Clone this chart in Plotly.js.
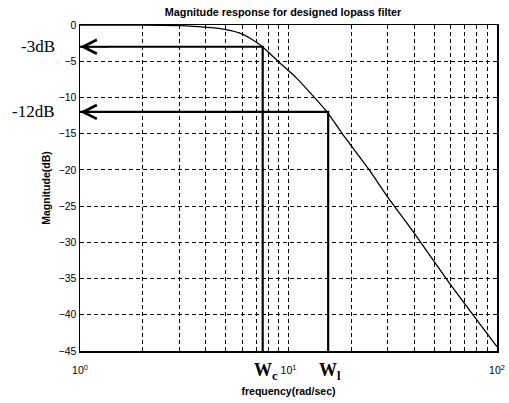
<!DOCTYPE html>
<html>
<head>
<meta charset="utf-8">
<script src="https://cdn.plot.ly/plotly-3.0.1.min.js"></script>
<style>html,body{margin:0;padding:0;background:#fff;}#chart{width:509px;height:403px;}</style>
</head>
<body>
<div id="chart"></div>
<script>
// Values
const freq = [1, 2, 3, 3.5, 4.7, 5.8, 6.6, 7.5, 8.9, 10.9, 13.3, 15.5, 18.1, 24.4, 29.8, 40, 59, 79, 97, 100];
const mag  = [0, -0.02, -0.1, -0.2, -0.5, -1.1, -1.9, -3, -5, -7.3, -10, -12.2, -15, -20, -23.7, -28.7, -35.6, -40.5, -43.9, -44.4];
const wc = 7.52;         // cutoff frequency marker
const wl = 15.5;         // second marker frequency
const levels = [-3, -12];           // dB levels marked
const levelLabels = ['-3dB', '-12dB'];
const markerFreqs = [wc, wl];
const markerLabels = ['W<sub>c</sub>', 'W<sub>l</sub>'];
const yTicks = [0, -5, -10, -15, -20, -25, -30, -35, -40, -45];
const xTicks = [1, 10, 100];
const xTickText = ['10<sup>0</sup>', '10<sup>1</sup>', '10<sup>2</sup>'];
const xMinor = [2, 3, 4, 5, 6, 7, 8, 9, 20, 30, 40, 50, 60, 70, 80, 90];
const yMin = -45;

const traces = [{
  x: freq, y: mag, type: 'scatter', mode: 'lines',
  line: {color: '#000', width: 1.3, shape: 'spline', smoothing: 0.5},
  hoverinfo: 'skip'
}];
levels.forEach((lv, i) => {
  traces.push({
    x: [xTicks[0], markerFreqs[i], markerFreqs[i]],
    y: [lv, lv, yMin],
    type: 'scatter', mode: 'lines',
    line: {color: '#000', width: 2.2},
    hoverinfo: 'skip'
  });
});

const annotations = [];
levels.forEach((lv, i) => {
  annotations.push({
    x: Math.log10(xTicks[0]), y: lv, xref: 'x', yref: 'y',
    ax: Math.log10(1.4), ay: lv, axref: 'x', ayref: 'y',
    text: '', showarrow: true, arrowhead: 5, arrowsize: 1.7, arrowwidth: 1.6,
    arrowcolor: '#000', standoff: 0
  });
  annotations.push({
    x: -0.055, y: lv, xref: 'paper', yref: 'y', xanchor: 'right', yanchor: 'middle',
    text: levelLabels[i], showarrow: false,
    font: {family: 'Liberation Serif, Times New Roman, serif', size: 17, color: '#000'}
  });
  annotations.push({
    x: Math.log10(markerFreqs[i]), y: 0, xref: 'x', yref: 'paper',
    xanchor: 'left', yanchor: 'top', xshift: -11, yshift: -7,
    text: markerLabels[i], showarrow: false,
    font: {family: 'Liberation Serif, Times New Roman, serif', size: 18, color: '#000', weight: 'bold'}
  });
});

const axisFont = {family: 'Liberation Sans, Arial, sans-serif', size: 10.5, color: '#000'};
const gridDash = '4px,3px';
const layout = {
  width: 509, height: 403,
  margin: {l: 80, r: 12, t: 25, b: 52},
  paper_bgcolor: '#fff', plot_bgcolor: '#fff',
  showlegend: false,
  title: {text: 'Magnitude response for designed lopass filter', x: 0.556, xanchor: 'center', y: 0.97, yanchor: 'middle',
          font: {family: 'Liberation Sans, Arial, sans-serif', size: 10.8, color: '#000', weight: 'bold'}},
  xaxis: {
    type: 'log', range: [0, 2],
    tickvals: xTicks, ticktext: xTickText, tickfont: axisFont,
    ticks: 'inside', ticklen: 4, tickcolor: '#000', ticklabelstandoff: 9,
    showline: true, linecolor: '#000', linewidth: 1.5, mirror: 'ticks',
    showgrid: true, gridcolor: '#000', griddash: gridDash, gridwidth: 1,
    minor: {tickvals: xMinor, ticks: 'inside', ticklen: 3, tickcolor: '#000', showgrid: true, gridcolor: '#000', griddash: gridDash, gridwidth: 1},
    zeroline: false,
    title: {text: 'frequency(rad/sec)', standoff: 12, font: {family: 'Liberation Sans, Arial, sans-serif', size: 10.5, color: '#000', weight: 'bold'}}
  },
  yaxis: {
    range: [yMin, 0], tickvals: yTicks, tickfont: axisFont,
    ticks: 'inside', ticklen: 4, tickcolor: '#000',
    showline: true, linecolor: '#000', linewidth: 1.5, mirror: 'ticks',
    showgrid: true, gridcolor: '#000', griddash: gridDash, gridwidth: 1,
    zeroline: false,
    title: {text: 'Magnitude(dB)', standoff: 6, font: {family: 'Liberation Sans, Arial, sans-serif', size: 10.5, color: '#000', weight: 'bold'}}
  },
  annotations: annotations
};

Plotly.newPlot('chart', traces, layout, {displayModeBar: false, staticPlot: true});
</script>
</body>
</html>
